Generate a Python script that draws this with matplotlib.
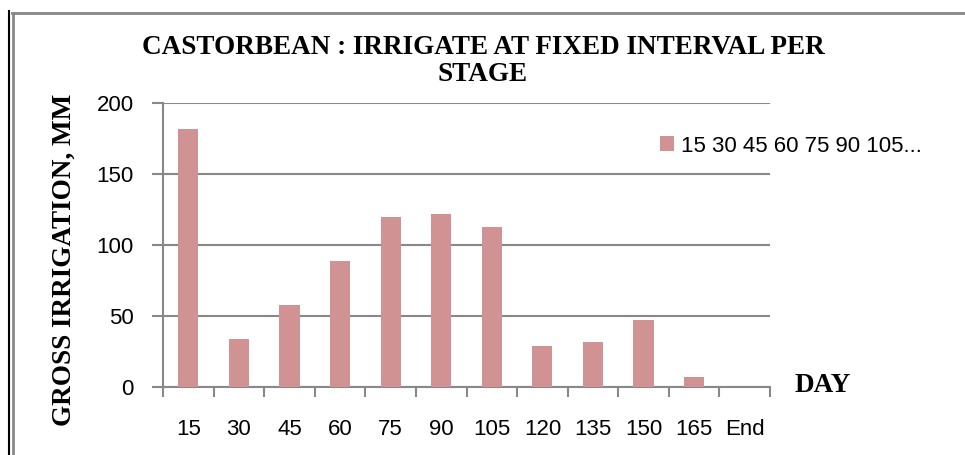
import numpy as np
import matplotlib.pyplot as plt
from matplotlib.lines import Line2D

# data
days = ['15', '30', '45', '60', '75', '90', '105', '120', '135', '150', '165', 'End']
gross_irrigation = [182, 34, 58, 89, 120, 122, 113, 29, 32, 47, 7, 0]
series_name = '15 30 45 60 75 90 105...'

bar_color = '#D09292'
grid_color = '#888888'
serif = 'Liberation Serif'
sans = 'Liberation Sans'
tick_size = 16

fig = plt.figure(figsize=(9.65, 4.55), dpi=100)
ax = fig.add_axes([163 / 965, 1 - 387 / 455, (770 - 163) / 965, (387 - 103) / 455])

x = np.arange(len(days))
bars = ax.bar(x, gross_irrigation, width=0.4, color=bar_color, zorder=3, label=series_name)

ax.set_xlim(-0.5, len(days) - 0.5)
ax.set_ylim(0, 200)
ax.set_yticks([0, 50, 100, 150, 200])
ax.yaxis.grid(True, color=grid_color, linewidth=1.5, zorder=0)

# x ticks sit between categories, labels under the categories
ax.set_xticks(np.arange(-0.5, len(days)), minor=False)
ax.set_xticklabels([])
ax.set_xticks(x, minor=True)
ax.set_xticklabels(days, minor=True, fontfamily=sans, fontsize=tick_size)
ax.tick_params(axis='x', which='major', length=7, width=1.5, color=grid_color, direction='out')
ax.tick_params(axis='x', which='minor', length=0, pad=23)
ax.tick_params(axis='y', length=8, width=1.5, color=grid_color, labelsize=tick_size, pad=13)
for lab in ax.get_yticklabels():
    lab.set_fontfamily(sans)

for side in ['top', 'right']:
    ax.spines[side].set_visible(False)
for side in ['left', 'bottom']:
    ax.spines[side].set_color(grid_color)
    ax.spines[side].set_linewidth(1.5)

fig.text(483 / 965, 1 - 61 / 455, 'CASTORBEAN : IRRIGATE AT FIXED INTERVAL PER\nSTAGE',
         ha='center', va='center', fontfamily=serif, fontweight='bold',
         fontsize=19.5, linespacing=1.15)
fig.text(64 / 965, 1 - 260 / 455, 'GROSS IRRIGATION, MM', rotation=90,
         ha='center', va='center', fontfamily=serif, fontweight='bold', fontsize=19.5)
fig.text(823 / 965, 1 - 385 / 455, 'DAY', ha='center', va='center',
         fontfamily=serif, fontweight='bold', fontsize=19.5)

fig.legend(handles=[bars], labels=[series_name], loc='center left',
           bbox_to_anchor=(640 / 965, 1 - 146 / 455), frameon=False,
           prop={'family': sans, 'size': tick_size}, handlelength=0.65, handleheight=0.65,
           handletextpad=0.3)

# outer frame
fig.add_artist(Line2D([8.5 / 965, 8.5 / 965], [0, 1 - 11 / 455], color='black',
                      linewidth=1.5, transform=fig.transFigure))
fig.add_artist(Line2D([12.5 / 965, 12.5 / 965], [0, 1 - 12.5 / 455], color=grid_color,
                      linewidth=2, transform=fig.transFigure))
fig.add_artist(Line2D([11.5 / 965, 1], [1 - 12.5 / 455, 1 - 12.5 / 455], color=grid_color,
                      linewidth=2, transform=fig.transFigure))

fig.savefig('out.png', dpi=100)
